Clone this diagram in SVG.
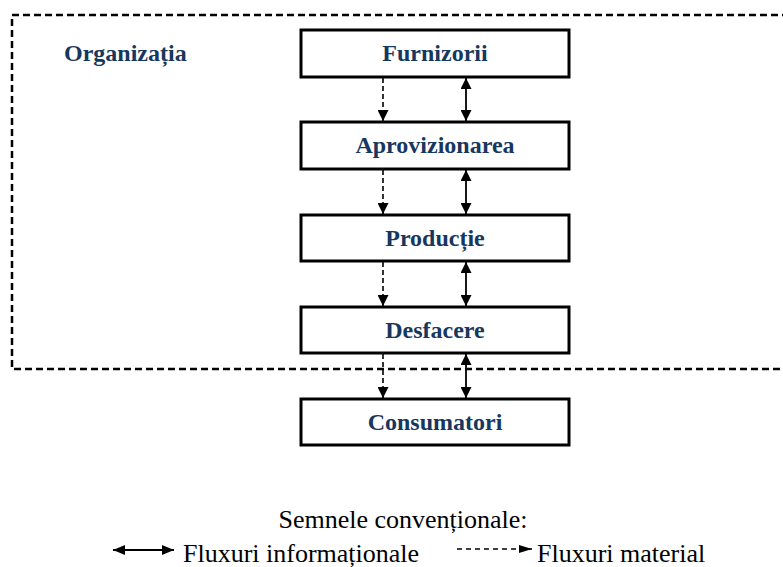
<svg xmlns="http://www.w3.org/2000/svg" width="783" height="567" viewBox="0 0 783 567">
<style>
.box{fill:#fff;stroke:#000;stroke-width:3}
.lbl{font-family:'Liberation Serif','Times New Roman',Tinos,'DejaVu Serif',serif;font-weight:bold;font-size:24px;fill:#17375E;text-anchor:middle}
.info{stroke:#000;stroke-width:1.8;fill:none;marker-start:url(#ah);marker-end:url(#ah)}
.mat{stroke:#000;stroke-width:1.6;fill:none;stroke-dasharray:5 3;marker-end:url(#ah)}
.leg{font-family:'Liberation Serif','Times New Roman',Tinos,'DejaVu Serif',serif;font-size:26px;fill:#000}
</style>
<defs>
<marker id="ah" markerUnits="userSpaceOnUse" markerWidth="11" markerHeight="11" viewBox="0 0 11 11" refX="11" refY="5.5" orient="auto-start-reverse">
<path d="M0,0 L11,5.5 L0,11 Z" fill="#000"/>
</marker>
<marker id="ahl" markerUnits="userSpaceOnUse" markerWidth="12" markerHeight="10" viewBox="0 0 12 10" refX="12" refY="5" orient="auto-start-reverse">
<path d="M0,0 L12,5 L0,10 Z" fill="#000"/>
</marker>
<marker id="ahm" markerUnits="userSpaceOnUse" markerWidth="13" markerHeight="8" viewBox="0 0 13 8" refX="13" refY="4" orient="auto">
<path d="M0,0 L13,4 L0,8 Z" fill="#000"/>
</marker>
</defs>
<rect x="12" y="15" width="790" height="354" fill="none" stroke="#000" stroke-width="2.5" stroke-dasharray="7 4"/>
<text x="64" y="61" class="lbl" style="text-anchor:start">Organizația</text>
<g id="furnizorii"><rect class="box" x="301" y="30" width="268" height="47"/><text class="lbl" x="435" y="61">Furnizorii</text></g>
<g id="aprovizionarea"><rect class="box" x="301" y="122" width="268" height="47"/><text class="lbl" x="435" y="153">Aprovizionarea</text></g>
<g id="productie"><rect class="box" x="301" y="215" width="268" height="46"/><text class="lbl" x="435" y="246">Producție</text></g>
<g id="desfacere"><rect class="box" x="301" y="307" width="268" height="46"/><text class="lbl" x="435" y="338">Desfacere</text></g>
<g id="consumatori"><rect class="box" x="301" y="399" width="268" height="46"/><text class="lbl" x="435" y="430">Consumatori</text></g>
<g id="connectors">
<path class="mat" d="M383,78 V121"/>
<path class="info" d="M466,78 V121"/>
<path class="mat" d="M383,170 V214"/>
<path class="info" d="M466,170 V214"/>
<path class="mat" d="M383,262 V306"/>
<path class="info" d="M466,262 V306"/>
<path class="mat" d="M383,354 V398"/>
<path class="info" d="M466,354 V398"/>
</g>
<g id="legend">
<text class="leg" x="403" y="528" text-anchor="middle">Semnele convenționale:</text>
<path d="M113,550 H174" stroke="#000" stroke-width="2" fill="none" marker-start="url(#ahl)" marker-end="url(#ahl)"/>
<text class="leg" x="183" y="562">Fluxuri informaționale</text>
<path d="M457,549 H532" stroke="#000" stroke-width="1.6" fill="none" stroke-dasharray="5 4" marker-end="url(#ahm)"/>
<text class="leg" x="537" y="562">Fluxuri material</text>
</g>
</svg>
